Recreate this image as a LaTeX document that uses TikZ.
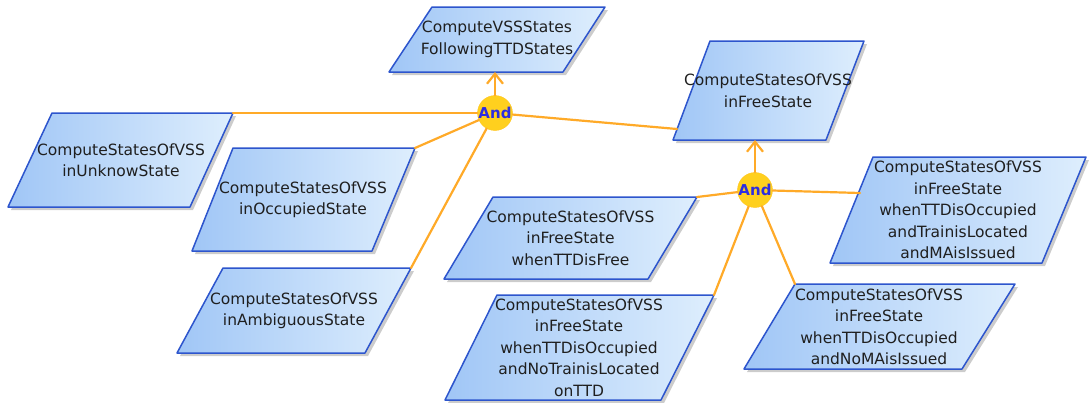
\documentclass[tikz,border=0pt]{standalone}
\usepackage{fontspec}
\setmainfont{DejaVu Sans}
\usetikzlibrary{arrows.meta,shadows}
\definecolor{goalleft}{RGB}{160,198,246}
\definecolor{goalright}{RGB}{222,238,253}
\definecolor{goalline}{RGB}{45,85,205}
\definecolor{linkorange}{RGB}{255,170,40}
\definecolor{andfill}{RGB}{255,208,30}
\definecolor{andtext}{RGB}{45,45,225}
\begin{document}
\begin{tikzpicture}[x=1pt, y=-1pt, font=\fontsize{15.5}{21.5}\selectfont, line join=round, line cap=round, >={Straight Barb[length=10pt,width=16pt]},
	goal/.style={draw=goalline, line width=1.5pt, left color=goalleft, right color=goalright, drop shadow={shadow xshift=3pt, shadow yshift=-3pt, opacity=0.4}},
	goaltext/.style={align=center, text=black!88, inner sep=0pt},
	andnode/.style={circle, fill=andfill, draw=andfill!85!orange, inner sep=0pt, minimum size=30pt, text=andtext, font=\fontsize{15}{15}\selectfont\bfseries},
	link/.style={draw=linkorange, line width=2.2pt}]
			\useasboundingbox (0,0) rectangle (1089,402);
			% goals
			\draw[goal] (432,7) -- (605,7) -- (563,72) -- (389,72) -- cycle;
			\node[goaltext] (top) at (497,39.5) {ComputeVSSStates\\FollowingTTDStates};
			\draw[goal] (710,41) -- (864,41) -- (826,140) -- (673,140) -- cycle;
			\node[goaltext] (free) at (768,90.5) {ComputeStatesOfVSS\\inFreeState};
			\draw[goal] (52,113) -- (233,113) coordinate (unk-tr) -- (190,207) -- (8,207) -- cycle;
			\node[goaltext] (unk) at (121,160) {ComputeStatesOfVSS\\inUnknowState};
			\draw[goal] (233,148) -- (415,148) coordinate (occ-tr) -- (372,251) -- (192,251) -- cycle;
			\node[goaltext] (occ) at (303,199.5) {ComputeStatesOfVSS\\inOccupiedState};
			\draw[goal] (223,268) -- (411,268) coordinate (amb-tr) -- (365,353) -- (177,353) -- cycle;
			\node[goaltext] (amb) at (294,310.5) {ComputeStatesOfVSS\\inAmbiguousState};
			\draw[goal] (493,197) -- (697,197) coordinate (wfree-tr) -- (648,279) -- (444,279) -- cycle;
			\node[goaltext] (wfree) at (570.5,238) {ComputeStatesOfVSS\\inFreeState\\whenTTDisFree};
			\draw[goal] (497,295) -- (714,295) coordinate (notrain-tr) -- (661,400) -- (445,400) -- cycle;
			\node[goaltext] (notrain) at (579,347.5) {ComputeStatesOfVSS\\inFreeState\\whenTTDisOccupied\\andNoTrainisLocated\\onTTD};
			\draw[goal] (795,284) coordinate (noma-tl) -- (1015,284) -- (962,369) -- (744,369) -- cycle;
			\node[goaltext] (noma) at (879,326.5) {ComputeStatesOfVSS\\inFreeState\\whenTTDisOccupied\\andNoMAisIssued};
			\draw[goal] (873,157) -- (1086,157) -- (1042,263) -- (830,263) -- cycle;
			\node[goaltext] (tloc) at (958,210) {ComputeStatesOfVSS\\inFreeState\\whenTTDisOccupied\\andTrainisLocated\\andMAisIssued};
			\coordinate (top-in) at (495,72);
			\coordinate (free-in) at (677,129);
			\coordinate (free-bot) at (755,140);
			\coordinate (tloc-in) at (860,193);
			% refinements
			\node[andnode] (and1) at (495,113) {And};
			\node[andnode] (and2) at (755,190) {And};
			\draw[link,->] (and1) -- (top-in);
			\draw[link] (and1) -- (unk-tr);
			\draw[link] (and1) -- (occ-tr);
			\draw[link] (and1) -- (amb-tr);
			\draw[link] (and1) -- (free-in);
			\draw[link,->] (and2) -- (free-bot);
			\draw[link] (and2) -- (wfree-tr);
			\draw[link] (and2) -- (notrain-tr);
			\draw[link] (and2) -- (noma-tl);
			\draw[link] (and2) -- (tloc-in);
		\end{tikzpicture}
\end{document}
